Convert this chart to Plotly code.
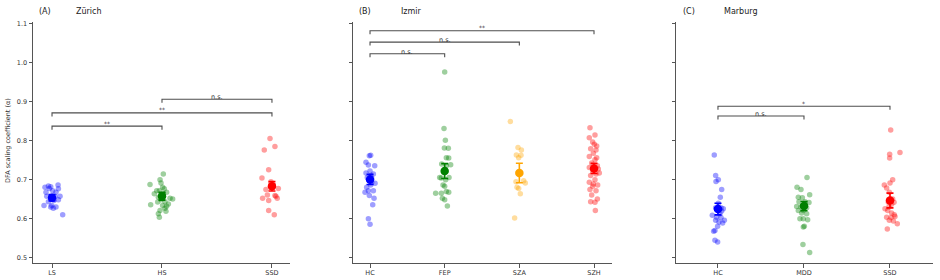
import plotly.graph_objects as go

# ---------------- data ----------------
# Panel A: Zürich
A_cats = ["LS", "HS", "SSD"]
A_LS_vals = [0.680, 0.683, 0.681, 0.686, 0.676, 0.667, 0.671, 0.667, 0.657, 0.654, 0.656,
             0.648, 0.643, 0.646, 0.633, 0.629, 0.626, 0.629, 0.633, 0.609, 0.677, 0.657]
A_LS_jit = [-0.064, -0.033, -0.012, 0.055, 0.058, -0.055, 0.006, 0.036, -0.048, -0.012, 0.027,
            0.058, -0.033, 0.018, -0.073, -0.012, 0.012, 0.036, -0.003, 0.097, -0.024, 0.073]
A_HS_vals = [0.714, 0.699, 0.691, 0.687, 0.680, 0.676, 0.671, 0.663, 0.667, 0.654, 0.656, 0.652,
             0.650, 0.643, 0.642, 0.637, 0.633, 0.631, 0.635, 0.626, 0.620, 0.618, 0.612, 0.603,
             0.648, 0.663, 0.671]
A_HS_jit = [0.012, -0.018, -0.009, -0.109, 0.006, 0.021, -0.024, -0.070, 0.042, -0.033, -0.003, 0.073,
            0.097, 0.027, -0.039, 0.058, 0.006, 0.042, -0.103, 0.027, -0.018, 0.036, -0.033, -0.024,
            -0.009, 0.012, -0.048]
A_SSD_vals = [0.805, 0.776, 0.7845, 0.725, 0.704, 0.694, 0.674, 0.677, 0.686, 0.652, 0.660, 0.657,
              0.652, 0.646, 0.659, 0.620, 0.609, 0.680]
A_SSD_jit = [-0.018, -0.070, 0.027, -0.030, -0.091, -0.009, -0.055, 0.058, 0.012, -0.085, -0.042, 0.036,
             0.048, -0.030, 0.027, -0.030, 0.021, 0.006]
A_means = [0.653, 0.657, 0.6825]
A_errs = [0.008, 0.010, 0.012]
A_brackets = [(0, 1, 0.837, "**"), (0, 2, 0.871, "**"), (1, 2, 0.906, "n.s.")]

# Panel B: Izmir
B_cats = ["HC", "FEP", "SZA", "SZH"]
B_HC_vals = [0.761, 0.762, 0.744, 0.737, 0.735, 0.7165, 0.722, 0.714, 0.705, 0.703, 0.697, 0.690,
             0.686, 0.680, 0.671, 0.671, 0.659, 0.652, 0.635, 0.599, 0.585, 0.710, 0.667, 0.693]
B_HC_jit = [-0.009, 0.009, -0.054, -0.022, 0.063, -0.054, 0.0, 0.045, -0.036, 0.022, -0.009, 0.067,
            0.009, -0.045, -0.022, 0.045, -0.009, 0.054, 0.036, -0.022, 0.0, 0.009, -0.067, 0.022]
B_FEP_vals = [0.976, 0.831, 0.801, 0.781, 0.780, 0.756, 0.755, 0.7395, 0.738, 0.735, 0.718, 0.705,
              0.720, 0.6995, 0.7037, 0.705, 0.686, 0.6646, 0.6646, 0.669, 0.667, 0.6476, 0.6315,
              0.652, 0.6825]
B_FEP_jit = [0.0, -0.009, 0.009, -0.004, 0.049, 0.022, 0.054, -0.040, 0.080, 0.022, -0.013, -0.067,
             0.0, 0.013, -0.045, 0.058, -0.022, -0.121, -0.045, 0.022, 0.054, 0.0, 0.036,
             -0.031, 0.0]
B_SZA_vals = [0.849, 0.782, 0.776, 0.763, 0.7625, 0.756, 0.694, 0.697, 0.691, 0.680, 0.677, 0.663, 0.601]
B_SZA_jit = [-0.121, -0.018, 0.027, -0.040, 0.022, -0.009, -0.045, 0.058, 0.080, -0.031, -0.009, 0.013, -0.063]
B_SZH_vals = [0.833, 0.814, 0.8075, 0.796, 0.7905, 0.786, 0.779, 0.776, 0.7675, 0.759, 0.756, 0.7505,
              0.742, 0.735, 0.731, 0.722, 0.7165, 0.714, 0.710, 0.6995, 0.693, 0.686, 0.6825, 0.674,
              0.671, 0.660, 0.650, 0.643, 0.6417, 0.620, 0.6885, 0.7268]
B_SZH_jit = [-0.054, 0.013, -0.063, -0.018, 0.004, 0.036, -0.045, 0.027, -0.009, -0.063, 0.036, 0.013,
             -0.031, 0.045, -0.063, -0.018, 0.071, 0.027, -0.045, 0.013, -0.063, 0.049, -0.018, -0.054,
             0.027, -0.031, 0.045, -0.045, 0.013, 0.018, -0.009, 0.058]
B_means = [0.700, 0.7216, 0.7165, 0.7284]
B_errs = [0.013, 0.019, 0.025, 0.013]
B_brackets = [(0, 1, 1.023, "n.s."), (0, 2, 1.053, "n.s."), (0, 3, 1.082, "**")]

# Panel C: Marburg
C_cats = ["HC", "MDD", "SSD"]
C_HC_vals = [0.763, 0.710, 0.699, 0.695, 0.674, 0.654, 0.639, 0.627, 0.627, 0.625, 0.608, 0.603,
             0.602, 0.595, 0.5906, 0.588, 0.580, 0.569, 0.567, 0.544, 0.539, 0.612, 0.595, 0.619]
C_HC_jit = [-0.043, -0.027, 0.004, -0.023, 0.043, 0.027, 0.004, -0.027, 0.035, 0.062, -0.066, -0.016,
            0.035, 0.074, 0.012, 0.054, -0.004, -0.035, -0.050, -0.035, -0.004, 0.023, -0.027, 0.043]
C_MDD_vals = [0.705, 0.680, 0.674, 0.661, 0.654, 0.6527, 0.6425, 0.6425, 0.641, 0.6306, 0.629, 0.627,
              0.620, 0.620, 0.6136, 0.612, 0.599, 0.599, 0.5966, 0.580, 0.578, 0.533, 0.512, 0.636]
C_MDD_jit = [0.035, -0.081, -0.035, 0.066, -0.066, -0.019, -0.058, 0.012, 0.058, -0.085, -0.035, 0.031,
             -0.066, -0.008, -0.027, 0.031, -0.047, -0.008, 0.043, 0.004, -0.008, -0.012, 0.066, 0.012]
C_SSD_vals = [0.827, 0.765, 0.769, 0.755, 0.699, 0.691, 0.686, 0.678, 0.667, 0.650, 0.6417, 0.6417,
              0.625, 0.620, 0.6136, 0.609, 0.603, 0.602, 0.605, 0.595, 0.593, 0.586, 0.573, 0.629, 0.636]
C_SSD_jit = [0.008, -0.004, 0.116, -0.004, 0.031, 0.0, -0.066, -0.039, -0.008, 0.031, -0.019, 0.047,
             -0.058, -0.027, 0.019, 0.050, -0.039, 0.012, 0.058, -0.008, 0.039, 0.085, -0.031, -0.012, 0.019]
C_means = [0.624, 0.6315, 0.646]
C_errs = [0.015, 0.012, 0.019]
C_brackets = [(0, 1, 0.863, "n.s."), (0, 2, 0.888, "*")]

y_ticks = [0.5, 0.6, 0.7, 0.8, 0.9, 1.0, 1.1]
y_title = "DFA scaling coefficient (α)"

# ---------------- styling ----------------
BLUE, GREEN, RED, ORANGE = "rgb(0,0,255)", "rgb(0,128,0)", "rgb(255,0,0)", "rgb(255,165,0)"
FONT = "DejaVu Sans"
W, H = 940, 280
AXC = "#555555"
TXT = "#333333"

panels = [
    dict(letter="(A)", name="Zürich", cats=A_cats,
         groups=[(A_LS_vals, A_LS_jit), (A_HS_vals, A_HS_jit), (A_SSD_vals, A_SSD_jit)],
         colors=[BLUE, GREEN, RED], means=A_means, errs=A_errs, brackets=A_brackets,
         px=(33, 290), xr=(-0.173, 2.164), letter_px=37, name_px=74, ticklabels=True),
    dict(letter="(B)", name="Izmir", cats=B_cats,
         groups=[(B_HC_vals, B_HC_jit), (B_FEP_vals, B_FEP_jit), (B_SZA_vals, B_SZA_jit),
                 (B_SZH_vals, B_SZH_jit)],
         colors=[BLUE, GREEN, ORANGE, RED], means=B_means, errs=B_errs, brackets=B_brackets,
         px=(353, 612), xr=(-0.228, 3.241), letter_px=357, name_px=399, ticklabels=False),
    dict(letter="(C)", name="Marburg", cats=C_cats,
         groups=[(C_HC_vals, C_HC_jit), (C_MDD_vals, C_MDD_jit), (C_SSD_vals, C_SSD_jit)],
         colors=[BLUE, GREEN, RED], means=C_means, errs=C_errs, brackets=C_brackets,
         px=(676, 933), xr=(-0.488, 2.5), letter_px=681, name_px=722, ticklabels=False),
]

fig = go.Figure()
annotations = []
y_dom = [(H - 263) / H, (H - 20) / H]
y_range = [0.485, 1.105]

for i, p in enumerate(panels):
    k = "" if i == 0 else str(i + 1)
    xa, ya = "x" + k, "y" + k
    # jittered points
    for ci, ((vals, jit), col) in enumerate(zip(p["groups"], p["colors"])):
        fig.add_trace(go.Scatter(
            x=[ci + j for j in jit], y=vals, mode="markers", xaxis=xa, yaxis=ya,
            marker=dict(size=5.5, color=col, opacity=0.38, line=dict(width=0)),
            showlegend=False, hoverinfo="y"))
    # means with error bars
    for ci, (m, e, col) in enumerate(zip(p["means"], p["errs"], p["colors"])):
        fig.add_trace(go.Scatter(
            x=[ci], y=[m], mode="markers", xaxis=xa, yaxis=ya,
            marker=dict(size=8.5, color=col, line=dict(width=0)),
            error_y=dict(type="data", array=[e], color=col, thickness=1.6, width=3.5),
            showlegend=False))
    # significance brackets
    for (a, b, yb, lab) in p["brackets"]:
        h = 0.009
        fig.add_trace(go.Scatter(
            x=[a, a, b, b], y=[yb - h, yb, yb, yb - h], mode="lines", xaxis=xa, yaxis=ya,
            line=dict(color="#4d4d4d", width=1.1), showlegend=False, hoverinfo="skip"))
        ns = lab.startswith("n")
        annotations.append(dict(
            x=(a + b) / 2, y=yb, xref=xa, yref=ya, text=lab, showarrow=False,
            yanchor="bottom", xanchor="center",
            yshift=-4 if ns else -2.5,
            font=dict(family=FONT, size=6.5 if ns else 6, color="#333333")))
    # titles
    annotations.append(dict(x=p["letter_px"] / W, y=1 - 10 / H, xref="paper", yref="paper",
                            text=p["letter"], showarrow=False, xanchor="left", yanchor="middle",
                            font=dict(family=FONT, size=8, color="#222")))
    annotations.append(dict(x=p["name_px"] / W, y=1 - 10 / H, xref="paper", yref="paper",
                            text=p["name"], showarrow=False, xanchor="left", yanchor="middle",
                            font=dict(family=FONT, size=8, color="#222")))
    dom = [p["px"][0] / W, p["px"][1] / W]
    fig.update_layout(**{
        "xaxis" + k: dict(domain=dom, range=list(p["xr"]), tickmode="array",
                          tickvals=list(range(len(p["cats"]))), ticktext=p["cats"],
                          showline=True, linecolor=AXC, linewidth=1, ticks="outside",
                          ticklen=3.5, tickcolor=AXC, tickwidth=1, showgrid=False,
                          zeroline=False, anchor=ya,
                          tickfont=dict(family=FONT, size=6.5, color=TXT)),
        "yaxis" + k: dict(domain=y_dom, range=y_range, tickmode="array", tickvals=y_ticks,
                          ticktext=[f"{v:.1f}" for v in y_ticks],
                          showticklabels=p["ticklabels"],
                          showline=True, linecolor=AXC, linewidth=1, ticks="outside",
                          ticklen=3.5, tickcolor=AXC, tickwidth=1, showgrid=False,
                          zeroline=False, anchor=xa,
                          tickfont=dict(family=FONT, size=6.5, color=TXT)),
    })

annotations.append(dict(x=8 / W, y=1 - 140 / H, xref="paper", yref="paper", text=y_title,
                        showarrow=False, textangle=-90, xanchor="center", yanchor="middle",
                        font=dict(family=FONT, size=6.5, color=TXT)))

fig.update_layout(width=W, height=H, margin=dict(l=0, r=0, t=0, b=0),
                  paper_bgcolor="white", plot_bgcolor="white",
                  annotations=annotations, showlegend=False)

fig.write_html("out.html")
